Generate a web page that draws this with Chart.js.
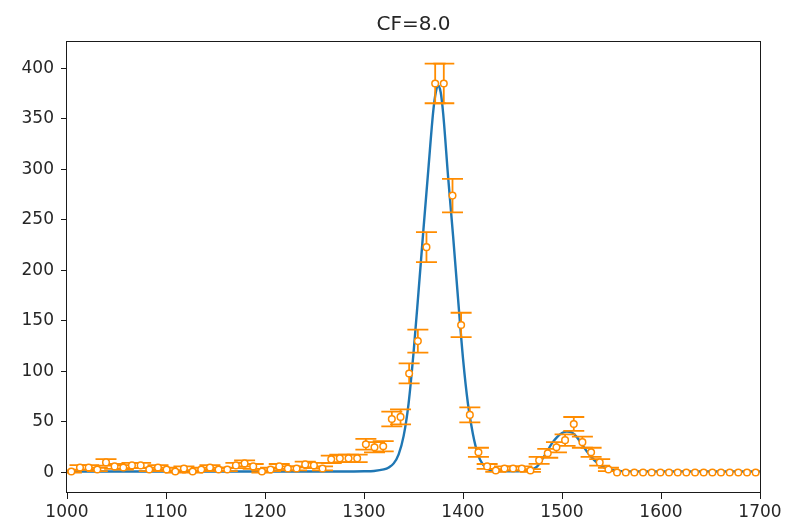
<!DOCTYPE html>
<html><head><meta charset="utf-8">
<script src="https://cdn.jsdelivr.net/npm/chart.js@4.4.1/dist/chart.umd.min.js"></script>
<style>html,body{margin:0;padding:0;background:#fff}#wrap{width:785px;height:528px}</style>
</head><body><div id="wrap"><canvas id="c" width="785" height="528"></canvas></div>
<script>
const titleText = 'CF=8.0';
const binCenters = [
 1004.4,1013.1,1021.9,1030.6,1039.4,1048.1,1056.9,1065.6,1074.4,1083.1,
 1091.9,1100.6,1109.4,1118.1,1126.9,1135.6,1144.4,1153.1,1161.9,1170.6,
 1179.4,1188.1,1196.9,1205.6,1214.4,1223.1,1231.9,1240.6,1249.4,1258.1,
 1266.9,1275.6,1284.4,1293.1,1301.9,1310.6,1319.4,1328.1,1336.9,1345.6,
 1354.4,1363.1,1371.9,1380.6,1389.4,1398.1,1406.9,1415.6,1424.4,1433.1,
 1441.9,1450.6,1459.4,1468.1,1476.9,1485.6,1494.4,1503.1,1511.9,1520.6,
 1529.4,1538.1,1546.9,1555.6,1564.4,1573.1,1581.9,1590.6,1599.4,1608.1,
 1616.9,1625.6,1634.4,1643.1,1651.9,1660.6,1669.4,1678.1,1686.9,1695.6];
const counts = [
 1,5,5,3,10,6,5,7,7,3,
 5,3,1,4,1,3,5,3,3,7,
 9,6,1,3,6,4,4,8,7,4,
 13,14,14,14,28,25,26,53,55,98,
 130,223,385,385,274,146,57,20,6,2,
 4,4,4,2,12,19,25,32,48,30,
 20,10,3,0,0,0,0,0,0,0,
 0,0,0,0,0,0,0,0,0,0];
const countErrors = [
 1,2.2,2.2,1.7,3.2,2.4,2.2,2.6,2.6,1.7,
 2.2,1.7,1,2,1,1.7,2.2,1.7,1.7,2.6,
 3,2.4,1,1.7,2.4,2,2,2.8,2.6,2,
 3.6,3.7,3.7,3.7,5.3,5,5.1,7.3,7.4,9.9,
 11.4,14.9,19.6,19.6,16.6,12.1,7.5,4.5,2.4,1.4,
 2,2,2,1.4,3.5,4.4,5,5.7,6.9,5.5,
 4.5,3.2,1.7,0,0,0,0,0,0,0,
 0,0,0,0,0,0,0,0,0,0];
const fitX = [1000,1100,1200,1280,1300,1310,1320,1325,1330,1335,1340,1345,1350,1355,1360,1365,1370,1372.5,1375,1377.5,1380,1385,1390,1395,1400,1405,1410,1415,1420,1425,1430,1440,1450,1460,1465,1470,1475,1480,1485,1490,1495,1500,1505,1510,1515,1520,1525,1530,1535,1540,1545,1550,1560,1580,1700];
const fitY = [1,1,1,1,1.2,1.5,3,5,9,18,36,68,118,178,240,300,358,376,383,376,355,292,234,172,113,68,38,18,8,3.5,2,1.3,1.1,1.3,2,3.2,6,13,21,29,35,39,40.5,39.5,35,28,21,15,10,6.5,4,2.5,1.3,1,1];
const xTicks = [1000,1100,1200,1300,1400,1500,1600,1700];
const yTicks = [0,50,100,150,200,250,300,350,400];

const ORANGE = '#ff8c00';
const BLUE = '#1f77b4';
const TXT = '#262626';

const errorBars = {
  id: 'errorBars',
  beforeDatasetDraw(chart, args) {
    if (args.index !== 0) return;
    const {ctx, chartArea} = chart;
    const x = chart.scales.x, y = chart.scales.y;
    ctx.save();
    ctx.beginPath();
    ctx.rect(chartArea.left, chartArea.top, chartArea.right - chartArea.left, chartArea.bottom - chartArea.top);
    ctx.clip();
    ctx.strokeStyle = ORANGE;
    ctx.lineWidth = 1.8;
    for (let i = 0; i < counts.length; i++) {
      const e = countErrors[i];
      if (!(e > 0)) continue;
      const px = x.getPixelForValue(binCenters[i]);
      const t = y.getPixelForValue(counts[i] + e);
      const b = y.getPixelForValue(counts[i] - e);
      ctx.beginPath();
      ctx.moveTo(px, t); ctx.lineTo(px, b);
      ctx.moveTo(px - 10.5, t); ctx.lineTo(px + 10.5, t);
      ctx.moveTo(px - 10.5, b); ctx.lineTo(px + 10.5, b);
      ctx.stroke();
    }
    ctx.restore();
  }
};
const frameAndTitle = {
  id: 'frameAndTitle',
  afterDatasetsDraw(chart) {
    const {ctx, chartArea: a} = chart;
    ctx.save();
    ctx.strokeStyle = '#1a1a1a';
    ctx.lineWidth = 1;
    ctx.strokeRect(Math.round(a.left) - 0.5, Math.round(a.top) + 0.5, Math.round(a.right - a.left) + 1, Math.round(a.bottom - a.top) - 1);
    ctx.fillStyle = TXT;
    ctx.font = 'normal 20px "DejaVu Sans"';
    ctx.textAlign = 'center';
    ctx.textBaseline = 'alphabetic';
    ctx.fillText(titleText, (a.left + a.right) / 2, 30);
    ctx.restore();
  }
};

new Chart(document.getElementById('c'), {
  type: 'scatter',
  data: {
    datasets: [
      {
        label: 'data',
        data: binCenters.map((v, i) => ({x: v, y: counts[i]})),
        showLine: false,
        pointStyle: 'circle',
        pointRadius: 3.3,
        pointBorderWidth: 1.5,
        pointBorderColor: ORANGE,
        pointBackgroundColor: '#ffffff'
      },
      {
        label: 'fit',
        type: 'line',
        data: fitX.map((v, i) => ({x: v, y: fitY[i]})),
        borderColor: BLUE,
        borderWidth: 2.4,
        pointRadius: 0,
        fill: false,
        cubicInterpolationMode: 'monotone'
      }
    ]
  },
  options: {
    responsive: false,
    animation: false,
    devicePixelRatio: 1,
    layout: {padding: {left: 0, right: 25, top: 41, bottom: 0}},
    plugins: {
      legend: {display: false},
      tooltip: {enabled: false},
      title: {display: false}
    },
    scales: {
      x: {
        type: 'linear', min: 1000, max: 1700,
        afterFit(s) { s.height = 35; },
        afterBuildTicks(s) { s.ticks = xTicks.map(v => ({value: v})); },
        border: {display: false},
        grid: {display: true, drawOnChartArea: false, drawTicks: true, tickLength: 6, tickColor: '#1a1a1a', tickWidth: 1},
        ticks: {color: TXT, font: {family: 'DejaVu Sans', size: 17}, padding: 3, maxRotation: 0, autoSkip: false,
                callback: v => String(v)}
      },
      y: {
        type: 'linear', min: -20.3, max: 427,
        afterFit(s) { s.width = 67; },
        afterBuildTicks(s) { s.ticks = yTicks.map(v => ({value: v})); },
        border: {display: false},
        grid: {display: true, drawOnChartArea: false, drawTicks: true, tickLength: 6, tickColor: '#1a1a1a', tickWidth: 1},
        ticks: {color: TXT, font: {family: 'DejaVu Sans', size: 17}, padding: 7, autoSkip: false,
                callback: v => String(v)}
      }
    }
  },
  plugins: [errorBars, frameAndTitle]
});
</script>
</body></html>
